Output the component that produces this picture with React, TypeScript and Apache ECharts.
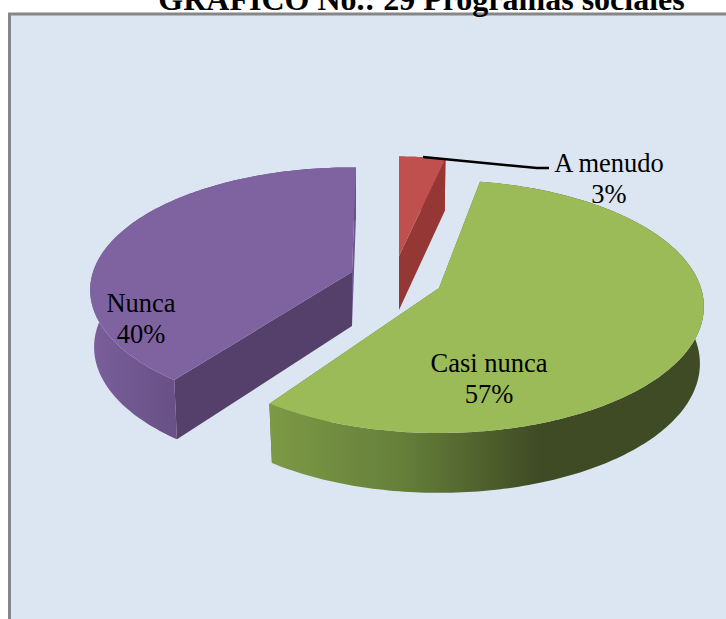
import React, { useEffect, useRef } from "react";
import * as echarts from "echarts";

const titleText = "GRAFICO No.: 29 Programas sociales";
const categories = ["A menudo", "Casi nunca", "Nunca"];
const shares = [3, 57, 40];

// Layout of the exploded, tilted pie (not data)
const apexes = [[399, 256], [439, 288], [352, 272]];
const sliceRX = [262, 262, 259];
const sliceRY = [114, 123.7, 120];
const angleTweaks = [[0, 0.9], [-0.5, -1.3], [1.3, 1]];
const topColors = ["#c0504d", "#9bbb59", "#7f63a1"];
const cutColors = ["#953735", "#5f7530", "#54406a"];
const labelAnchors = [[609, 147], [489, 347], [141, 287]];
const PERSP = 0.147, SHRINK = 0.985;

const wallFills: any[] = [
  "#953735",
  { type: "linear", x: 270, y: 0, x2: 705, y2: 0, global: true,
    colorStops: [{ offset: 0, color: "#7c9945" }, { offset: 0.3, color: "#66803a" }, { offset: 0.62, color: "#3f4b24" }, { offset: 1, color: "#3f4b24" }] },
  { type: "linear", x: 90, y: 0, x2: 180, y2: 0, global: true,
    colorStops: [{ offset: 0, color: "#7a5f9b" }, { offset: 1, color: "#675084" }] },
];

function project(i: number, deg: number) {
  const t = (deg * Math.PI) / 180;
  const p = 1 / (1 + PERSP * Math.cos(t));
  return [apexes[i][0] + sliceRX[i] * Math.sin(t) * p, apexes[i][1] - sliceRY[i] * Math.cos(t) * p];
}
function lower(apex: number[], pt: number[], deg: number) {
  const h = 56.5 - 5.5 * Math.cos((deg * Math.PI) / 180);
  return [apex[0] + (pt[0] - apex[0]) * SHRINK, apex[1] + (pt[1] - apex[1]) * SHRINK + h];
}

export default function App() {
  const ref = useRef<HTMLDivElement>(null);
  useEffect(() => {
    const chart = echarts.init(ref.current!, null, { renderer: "svg" });
    const total = shares.reduce((a, b) => a + b, 0);
    const renderItem = (params: any, api: any) => {
      const i = params.dataIndex;
      const before = shares.slice(0, i).reduce((a, b) => a + b, 0);
      const a0 = (before / total) * 360 + angleTweaks[i][0];
      const a1 = ((before + api.value(0)) / total) * 360 + angleTweaks[i][1];
      const apex = apexes[i];
      const arc: number[][] = [], low: number[][] = [];
      const steps = Math.max(6, Math.round(a1 - a0));
      for (let s = 0; s <= steps; s++) {
        const d = a0 + ((a1 - a0) * s) / steps;
        const pt = project(i, d);
        arc.push(pt);
        low.push(lower(apex, pt, d));
      }
      const apexLow = [apex[0], apex[1] + 54];
      const last = arc.length - 1;
      const children: any[] = [
        { type: "polygon", shape: { points: [apex, arc[last], low[last], apexLow] }, style: { fill: i === 2 ? "#6f5590" : cutColors[i] } },
        { type: "polygon", shape: { points: [apex, arc[0], low[0], apexLow] }, style: { fill: cutColors[i] } },
        { type: "polygon", shape: { points: [...arc, ...low.slice().reverse()] }, style: { fill: wallFills[i] } },
        { type: "polygon", shape: { points: [apex, ...arc] }, style: { fill: topColors[i] } },
      ];
      if (i === 0) {
        children.push({
          type: "polyline",
          shape: { points: [[423, 157], [537, 168], [549, 168]] },
          style: { stroke: "#000", lineWidth: 2.5, fill: "none" },
        });
      }
      children.push({
        type: "text",
        z2: 100,
        style: {
          x: labelAnchors[i][0], y: labelAnchors[i][1],
          text: `${categories[i]}\n${api.value(0)}%`,
          fill: "#000", align: "center", verticalAlign: "top",
          font: '26.5px "Liberation Serif"', lineHeight: 31,
        },
      });
      return { type: "group", children };
    };
    chart.setOption({
      animation: false,
      graphic: [
        { type: "rect", z: -10, shape: { x: 9.5, y: 14, width: 740, height: 640 },
          style: { fill: "#dce6f2", stroke: "#868686", lineWidth: 3 } },
        { type: "text", z: -5, style: { x: 421.5, y: 15, text: titleText, align: "center", verticalAlign: "bottom",
            fill: "#000", font: 'bold 32px "Liberation Serif"' } },
      ],
      series: [{
        type: "custom", coordinateSystem: "none", renderItem,
        data: shares.map((v) => [v]), clip: false, silent: true,
      }],
    });
    return () => chart.dispose();
  }, []);
  return <div ref={ref} style={{ position: "absolute", left: 0, top: 0, width: 726, height: 619 }} />;
}
